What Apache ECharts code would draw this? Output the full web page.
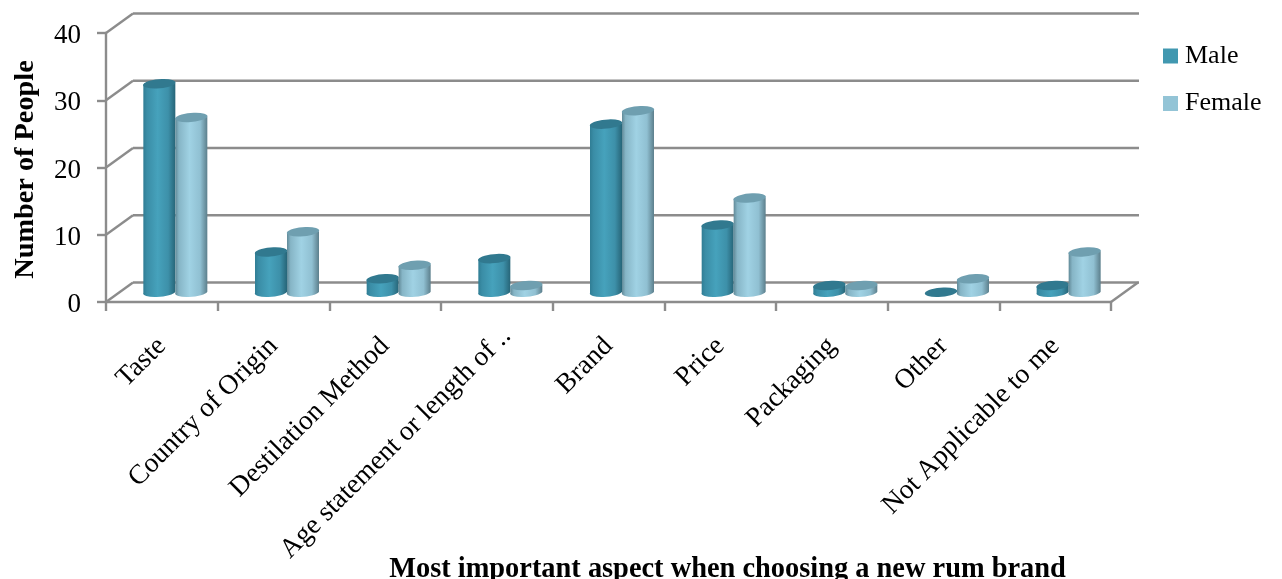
<!DOCTYPE html>
<html>
<head>
<meta charset="utf-8">
<style>html,body{margin:0;padding:0;background:#fff}#chart{width:1282px;height:579px}</style>
<script src="https://cdn.jsdelivr.net/npm/echarts@6/dist/echarts.min.js"></script>
</head>
<body>
<div id="chart"></div>
<script>
const categories = ['Taste', 'Country of Origin', 'Destilation Method', 'Age statement or length of ..', 'Brand', 'Price', 'Packaging', 'Other', 'Not Applicable to me'];
const maleValues = [31, 6, 2, 5, 25, 10, 1, 0, 1];
const femaleValues = [26, 9, 4, 1, 27, 14, 1, 2, 6];
const yTicks = [0, 10, 20, 30, 40];

const FONT = '"Liberation Serif", serif';
const LINE = '#8c8c8c';
// Pseudo-3D depth of the plot box, in pixels
const DEPTH_X = 27, DEPTH_Y = -19.5;
const TILT = -0.6; // slight lean of the cylinder caps

function gradient(stops) {
  return { type: 'linear', x: 0, y: 0, x2: 1, y2: 0,
    colorStops: stops.map(s => ({ offset: s[0], color: s[1] })) };
}
const palettes = {
  Male: {
    body: gradient([[0, '#2f7c93'], [0.12, '#3a8da6'], [0.45, '#46a2bc'], [0.78, '#3d90a9'], [1, '#276578']]),
    cap: '#31798f', legend: '#4198b0'
  },
  Female: {
    body: gradient([[0, '#5f8795'], [0.12, '#86b5c6'], [0.45, '#a0d2e4'], [0.78, '#90c0d2'], [1, '#5c7f8c']]),
    cap: '#6f9fb0', legend: '#93c4d6'
  }
};

// Draws one cylinder standing on the middle of the floor
function cylinder(name, side) {
  return function (params, api) {
    const band = api.size([1, 0])[0];
    const w = band * 0.2865, r = w / 2, ry = 4.5;
    const base = api.coord([api.value(0), 0]);
    const top = api.coord([api.value(0), api.value(1)]);
    const cx = base[0] + DEPTH_X / 2 + side * r;
    const yb = base[1] + DEPTH_Y / 2;
    const yt = top[1] + DEPTH_Y / 2;
    const l = cx - r, rr = cx + r;
    const tiltDeg = -5;
    const capPath = `M${l} ${yt - TILT}A${r} ${ry} ${tiltDeg} 1 1 ${rr} ${yt + TILT}A${r} ${ry} ${tiltDeg} 1 1 ${l} ${yt - TILT}Z`;
    const children = [];
    if (api.value(1) > 0) {
      const bodyPath = `M${l} ${yt - TILT}L${l} ${yb - TILT}A${r} ${ry} ${tiltDeg} 0 0 ${rr} ${yb + TILT}L${rr} ${yt + TILT}Z`;
      children.push({ type: 'path', shape: { pathData: bodyPath }, style: { fill: palettes[name].body } });
    }
    children.push({ type: 'path', shape: { pathData: capPath }, style: { fill: palettes[name].cap } });
    return { type: 'group', children };
  };
}

// Back wall lines, their slanted side-wall returns, and the right edge of the floor
function renderWalls(params, api) {
  const v = api.value(1);
  const cs = params.coordSys;
  const y = api.coord([0, v])[1];
  const x0 = cs.x, x1 = cs.x + cs.width;
  const style = { stroke: LINE, lineWidth: 2.4, fill: 'none' };
  const children = [
    { type: 'line', shape: { x1: x0, y1: y, x2: x0 + DEPTH_X, y2: y + DEPTH_Y }, style },
    { type: 'line', shape: { x1: x0 + DEPTH_X, y1: y + DEPTH_Y, x2: x1 + DEPTH_X + 1, y2: y + DEPTH_Y }, style }
  ];
  if (v === 0) {
    children.push({ type: 'line', shape: { x1: x1, y1: y, x2: x1 + DEPTH_X, y2: y + DEPTH_Y }, style });
  }
  return { type: 'group', children };
}

// The shortened label sits a little further along its slant than the others
const categoryItems = categories.map(c => c.endsWith('..')
  ? { value: c, textStyle: { padding: [0, -14, 0, 0] } }
  : c);

const chart = echarts.init(document.getElementById('chart'), null, { renderer: 'canvas' });
chart.setOption({
  animation: false,
  backgroundColor: '#ffffff',
  grid: { left: 106, right: 171, top: 33, height: 269, outerBoundsMode: 'none' },
  legend: {
    data: [
      { name: 'Male', itemStyle: { color: palettes.Male.legend } },
      { name: 'Female', itemStyle: { color: palettes.Female.legend } }
    ],
    orient: 'vertical', left: 1158, top: 38, icon: 'rect',
    itemWidth: 15, itemHeight: 15, itemGap: 21.5,
    selectedMode: false,
    textStyle: { fontFamily: FONT, fontSize: 26, color: '#000', padding: [0, 0, 0, 2] }
  },
  xAxis: {
    type: 'category', data: categoryItems,
    name: 'Most important aspect when choosing a new rum brand',
    nameLocation: 'middle', nameGap: 254, nameMoveOverlap: false,
    nameTextStyle: { fontFamily: FONT, fontSize: 28.4, fontWeight: 'bold', color: '#000', padding: [0, 0, 0, 238] },
    axisLine: { lineStyle: { color: LINE, width: 2.4 } },
    axisTick: { show: true, length: 9, alignWithLabel: false, lineStyle: { color: LINE, width: 2.4 } },
    axisLabel: { interval: 0, rotate: 45, margin: 40, fontFamily: FONT, fontSize: 27.5, color: '#000', hideOverlap: false }
  },
  yAxis: {
    type: 'value', min: 0, max: 40, interval: 10,
    name: 'Number of People', nameLocation: 'middle', nameGap: 66, nameMoveOverlap: false,
    nameTextStyle: { fontFamily: FONT, fontSize: 28.3, fontWeight: 'bold', color: '#000', padding: [0, 4, 0, 0] },
    axisLine: { show: true, lineStyle: { color: LINE, width: 2.4 } },
    axisTick: { show: true, length: 9, lineStyle: { color: LINE, width: 2.4 } },
    axisLabel: { margin: 25, fontFamily: FONT, fontSize: 27, color: '#000', verticalAlign: 'top', lineHeight: 6 },
    splitLine: { show: false }
  },
  series: [
    { name: 'walls', type: 'custom', z: 1, silent: true, clip: false,
      encode: { x: 0, y: 1 }, data: yTicks.map(t => [0, t]), renderItem: renderWalls },
    { name: 'Male', type: 'custom', z: 3, clip: false, itemStyle: { color: palettes.Male.legend },
      encode: { x: 0, y: 1 }, data: maleValues.map((v, i) => [i, v]), renderItem: cylinder('Male', -1) },
    { name: 'Female', type: 'custom', z: 3, clip: false, itemStyle: { color: palettes.Female.legend },
      encode: { x: 0, y: 1 }, data: femaleValues.map((v, i) => [i, v]), renderItem: cylinder('Female', 1) }
  ]
});
</script>
</body>
</html>
